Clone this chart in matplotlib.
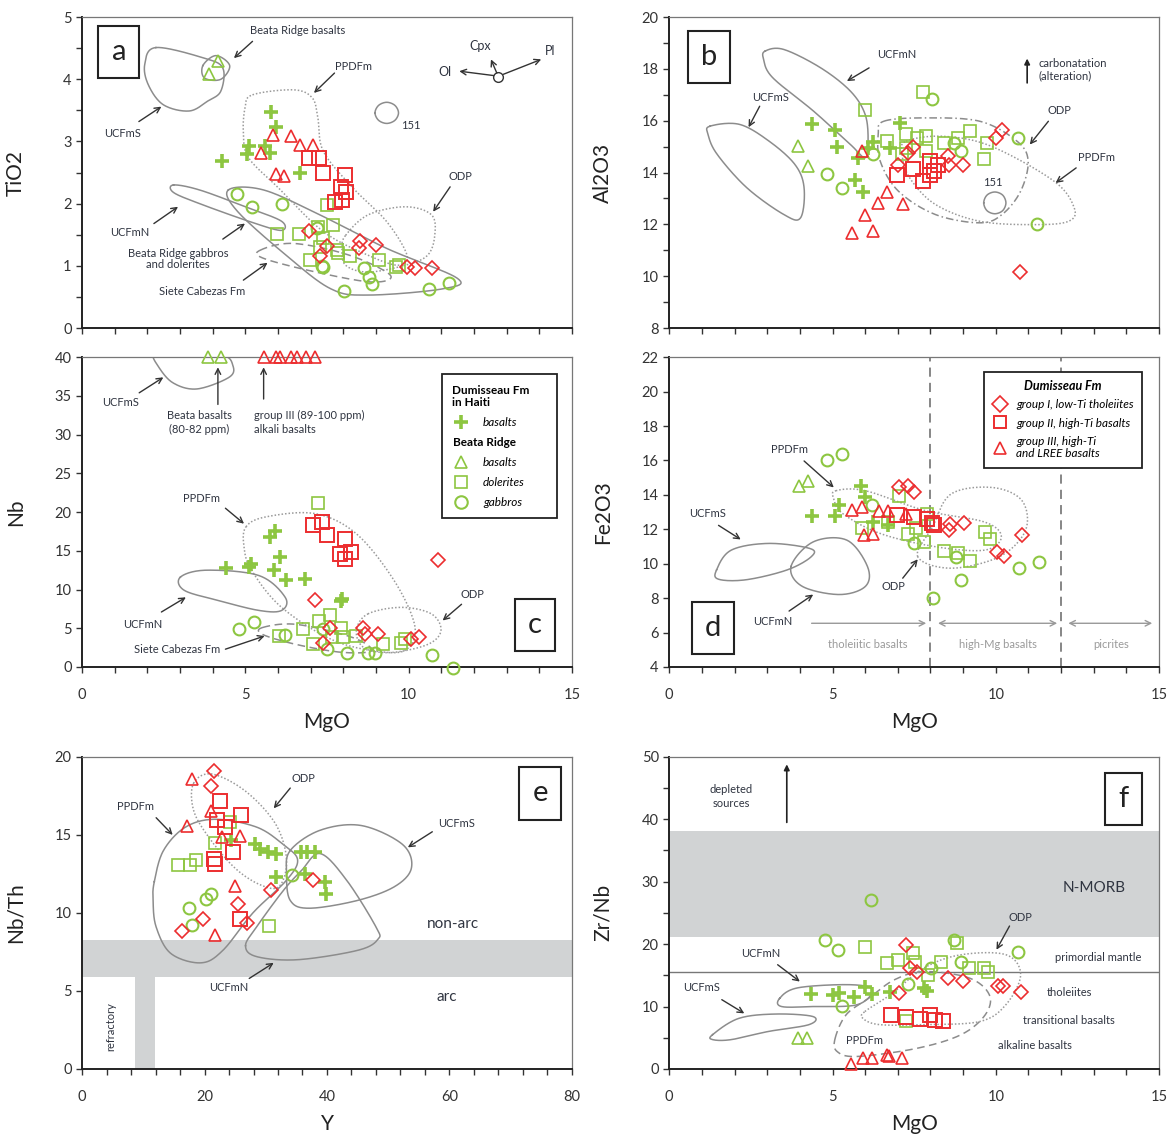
import numpy as np
import matplotlib.pyplot as plt
from matplotlib.ticker import MultipleLocator
from matplotlib.lines import Line2D
from matplotlib.patches import Rectangle

plt.rcParams['font.family'] = ['Lato', 'DejaVu Sans']

GREEN = '#8dc641'
RED = '#ec2d2f'
FIELD = '#8c8c8c'
TXT = '#2f3440'

# ---------------- panel a: TiO2 vs MgO ----------------
a_plus = [(4.28, 2.68), (5.05, 2.80), (5.10, 2.93), (5.60, 2.93), (5.77, 2.82), (5.79, 3.47), (5.93, 3.23), (6.67, 2.49)]
a_gtri = [(4.16, 4.30), (3.88, 4.09)]
a_gsq = [(7.50, 1.98), (5.96, 1.52), (6.65, 1.51), (7.22, 1.63), (7.67, 1.65), (7.39, 1.44), (7.82, 1.25),
         (7.85, 1.20), (8.19, 1.16), (6.99, 1.09), (9.10, 1.09), (9.61, 0.98), (9.70, 1.01), (7.30, 1.30)]
a_gcirc = [(4.74, 2.15), (5.20, 1.94), (6.11, 1.99), (7.39, 0.98), (8.64, 0.96), (8.79, 0.82), (8.89, 0.70),
           (8.02, 0.59), (10.62, 0.63), (11.24, 0.73), (7.19, 1.61), (7.35, 1.00)]
a_rdia = [(6.96, 1.56), (7.50, 1.32), (7.28, 1.16), (8.51, 1.40), (8.47, 1.29), (8.99, 1.33), (9.95, 0.98),
          (10.18, 0.96), (10.73, 0.96)]
a_rsq = [(6.96, 2.74), (7.25, 2.74), (7.39, 2.49), (8.05, 2.46), (7.94, 2.27), (8.07, 2.18), (7.75, 2.03), (7.96, 2.06)]
a_rtri = [(5.85, 3.11), (6.40, 3.08), (6.68, 2.94), (7.07, 2.94), (5.48, 2.82), (5.93, 2.47), (6.19, 2.45)]

a_ucfms = [(2.26, 4.51), (3.74, 4.34), (4.31, 4.18), (4.25, 3.81), (3.85, 3.65), (3.28, 3.49), (2.49, 3.59), (2.03, 3.91), (1.92, 4.24)]
a_beata = [(3.70, 4.22), (4.10, 4.38), (4.52, 4.22), (4.25, 4.00), (3.75, 4.02)]
a_ppdfm = [(5.22, 3.75), (6.48, 3.83), (7.05, 3.70), (7.22, 3.38), (7.39, 2.84), (8.30, 2.25), (9.33, 1.71), (9.95, 1.17),
           (9.67, 1.01), (8.76, 1.17), (7.39, 1.55), (6.02, 2.25), (5.11, 2.73), (4.94, 3.11), (4.99, 3.54)]
a_151 = [(8.97, 3.46), (9.08, 3.58), (9.33, 3.63), (9.58, 3.58), (9.69, 3.46), (9.58, 3.34), (9.33, 3.29), (9.08, 3.34)]
a_odp = [(8.07, 1.49), (8.76, 1.82), (9.90, 1.95), (10.70, 1.82), (10.80, 1.49), (10.58, 1.17), (9.90, 1.01),
         (8.76, 0.90), (8.07, 1.01), (7.96, 1.28)]
a_ucfmn = [(2.80, 2.30), (3.60, 2.22), (5.00, 1.95), (6.10, 1.72), (6.10, 1.57), (5.20, 1.70), (3.60, 2.00), (2.80, 2.18)]
a_gabbro = [(4.48, 2.22), (5.56, 2.22), (7.28, 1.82), (9.33, 1.28), (11.49, 0.80), (11.04, 0.63), (8.76, 0.53),
            (7.62, 0.63), (6.25, 1.17), (4.77, 1.87)]
a_siete = [(5.45, 1.25), (6.48, 1.36), (8.19, 1.17), (9.44, 0.85), (8.87, 0.74), (7.16, 0.90), (5.56, 1.12)]

# ---------------- panel b: Al2O3 vs MgO ----------------
b_plus = [(4.38, 15.88), (5.07, 15.66), (5.15, 15.00), (5.78, 14.57), (5.69, 13.71), (5.92, 13.24), (6.23, 15.19),
          (6.77, 14.96), (7.08, 15.92), (6.10, 14.96)]
b_gtri = [(3.94, 15.02), (4.25, 14.25)]
b_gsq = [(6.00, 16.40), (7.76, 17.12), (6.68, 15.21), (7.25, 15.47), (7.59, 15.34), (7.87, 15.40), (7.25, 14.95),
         (8.40, 15.15), (8.83, 15.34), (9.20, 15.62), (9.74, 15.15), (9.65, 14.54), (7.13, 14.70), (7.87, 14.83)]
b_gcirc = [(4.84, 13.93), (5.30, 13.41), (6.23, 14.70), (8.06, 16.82), (8.72, 15.15), (8.92, 14.83), (10.68, 15.34), (11.27, 12.02)]
b_rdia = [(7.02, 14.31), (7.30, 14.76), (7.47, 14.98), (8.55, 14.63), (8.58, 14.31), (9.00, 14.31), (10.02, 15.34),
          (10.20, 15.66), (10.74, 10.17)]
b_rsq = [(6.96, 13.90), (7.47, 14.12), (7.76, 13.69), (7.98, 13.92), (7.98, 14.44), (8.24, 14.29), (8.10, 14.05)]
b_rtri = [(5.89, 14.83), (6.68, 13.26), (6.40, 12.83), (7.17, 12.77), (6.00, 12.38), (5.60, 11.67), (6.25, 11.74)]

b_ucfms = [(1.25, 15.79), (2.15, 15.86), (3.06, 15.21), (3.85, 14.31), (4.13, 13.41), (4.02, 12.25), (3.51, 12.38),
           (2.38, 13.41), (1.47, 14.70), (1.19, 15.47)]
b_ucfmn = [(2.94, 18.69), (3.51, 18.75), (4.64, 18.04), (5.55, 17.14), (6.00, 16.24), (6.09, 15.21), (6.00, 14.57),
           (5.55, 15.08), (4.42, 16.37), (3.17, 17.66), (2.89, 18.37)]
b_odp = [(6.57, 15.98), (7.81, 16.11), (9.51, 15.98), (10.65, 15.21), (10.99, 14.44), (10.76, 13.28), (10.19, 12.38),
         (9.51, 12.06), (8.15, 12.38), (7.02, 13.28), (6.46, 14.44), (6.40, 15.47)]
b_ppdfm = [(7.25, 15.21), (8.38, 15.40), (9.85, 15.02), (11.78, 13.67), (12.40, 12.64), (12.23, 12.12), (11.21, 11.99),
           (9.51, 12.12), (8.15, 12.77), (7.36, 13.80), (7.13, 14.70)]
b_151 = [(9.63, 12.83), (9.73, 13.13), (9.97, 13.25), (10.21, 13.13), (10.31, 12.83), (10.21, 12.53), (9.97, 12.41), (9.73, 12.53)]

# ---------------- panel c: Nb vs MgO ----------------
c_plus = [(4.41, 12.78), (5.17, 13.26), (5.12, 12.90), (5.74, 16.81), (5.90, 17.59), (5.88, 12.48), (6.05, 14.21),
          (6.25, 11.18), (6.82, 11.40), (7.97, 8.80), (7.93, 8.50)]
c_gtri = [(3.87, 40.0), (4.24, 40.0)]
c_gsq = [(7.23, 21.14), (7.60, 6.76), (7.26, 5.98), (6.77, 4.90), (6.02, 4.03), (7.94, 5.03), (8.00, 3.90),
         (8.38, 4.03), (7.08, 3.03), (9.23, 3.03), (9.78, 3.16), (9.90, 3.60), (7.66, 3.81)]
c_gcirc = [(4.82, 4.90), (5.28, 5.76), (6.20, 4.16), (7.37, 4.90), (7.49, 2.30), (8.12, 1.86), (8.75, 1.86),
           (8.98, 1.86), (10.73, 1.52), (11.37, -0.09)]
c_rdia = [(7.12, 8.67), (7.58, 5.03), (7.37, 3.08), (8.61, 5.03), (8.66, 4.25), (9.07, 4.25), (10.07, 3.60),
          (10.33, 3.81), (10.91, 13.78)]
c_rsq = [(7.08, 18.33), (7.35, 18.76), (7.49, 17.03), (8.06, 16.59), (7.89, 14.64), (8.23, 14.86), (8.04, 13.99)]
c_rtri = [(5.56, 40.0), (5.94, 40.0), (6.07, 40.0), (6.40, 40.0), (6.57, 40.0), (6.85, 40.0), (7.14, 40.0)]

c_ucfms = [(2.20, 40.4), (2.78, 40.6), (4.27, 40.3), (4.62, 38.9), (4.50, 37.4), (3.52, 35.9), (2.78, 36.7), (2.32, 38.9)]
c_ppdfm = [(5.02, 18.1), (5.65, 19.4), (7.14, 19.8), (8.40, 17.2), (9.55, 11.2), (10.18, 5.5), (10.00, 2.5),
           (9.30, 1.9), (7.72, 3.4), (6.11, 7.7), (5.19, 12.5), (4.96, 15.5)]
c_ucfmn = [(3.01, 11.6), (3.81, 12.5), (5.42, 11.8), (6.22, 9.0), (6.11, 7.3), (5.42, 7.3), (4.16, 8.6), (3.13, 9.9)]
c_odp = [(8.75, 6.85), (9.78, 7.7), (10.70, 6.85), (10.99, 4.7), (10.58, 2.9), (9.44, 1.86), (8.63, 2.5), (8.40, 4.7)]
c_siete = [(5.53, 5.1), (6.57, 5.5), (8.29, 3.8), (8.86, 2.1), (7.94, 1.9), (6.57, 2.9), (5.53, 4.2)]

# ---------------- panel d: Fe2O3 vs MgO ----------------
d_plus = [(4.38, 12.77), (5.07, 12.80), (5.19, 13.42), (5.87, 14.49), (5.99, 13.86), (6.24, 12.42), (6.69, 12.27)]
d_gtri = [(3.98, 14.49), (4.24, 14.78)]
d_gsq = [(7.04, 13.95), (7.32, 11.75), (7.81, 11.27), (7.89, 12.90), (8.40, 10.76), (8.85, 10.64), (9.22, 10.18),
         (9.68, 11.85), (9.81, 11.41), (5.90, 12.10), (6.69, 12.42), (7.55, 12.10)]
d_gcirc = [(4.83, 16.00), (5.30, 16.35), (6.20, 13.44), (7.49, 11.21), (8.08, 8.02), (8.77, 10.37), (8.92, 9.07),
           (10.72, 9.78), (11.31, 10.12)]
d_rdia = [(7.04, 14.47), (7.32, 14.53), (7.49, 14.15), (8.57, 11.94), (8.61, 12.29), (9.03, 12.36), (10.03, 10.70),
          (10.25, 10.45), (10.80, 11.66)]
d_rsq = [(6.98, 12.86), (7.49, 12.71), (7.89, 12.61), (8.04, 12.36), (8.12, 12.23)]
d_rtri = [(5.59, 13.13), (5.90, 13.32), (5.95, 11.66), (6.24, 11.75), (6.41, 13.09), (6.69, 13.09), (7.24, 12.90)]

d_ucfms = [(1.45, 9.64), (1.90, 10.79), (3.04, 11.18), (4.30, 10.89), (4.35, 10.41), (3.61, 9.64), (2.36, 9.07), (1.51, 9.10)]
d_ucfmn = [(3.73, 9.84), (4.41, 11.27), (5.44, 11.37), (6.07, 9.84), (6.01, 8.69), (5.21, 8.21), (4.07, 8.69)]
d_ppdfm = [(5.10, 14.24), (6.01, 14.24), (7.83, 13.09), (9.66, 12.42), (10.17, 11.56), (9.66, 10.79), (8.18, 10.98),
           (6.47, 11.75), (5.32, 12.90), (5.04, 13.76)]
d_odp = [(7.61, 10.41), (8.06, 12.13), (8.63, 14.05), (9.89, 14.43), (10.80, 13.67), (10.91, 11.94), (10.11, 10.41), (8.63, 9.74)]
d_limits = [8, 12]

# ---------------- panel e: Nb/Th vs Y ----------------
e_plus = [(28.2, 14.4), (29.1, 14.1), (30.3, 13.9), (31.6, 13.8), (35.8, 13.9), (36.7, 13.9), (38.0, 13.9),
          (39.6, 12.0), (39.8, 11.2), (31.6, 12.3), (36.4, 12.5), (24.3, 14.7)]
e_gsq = [(15.7, 13.1), (17.7, 13.1), (18.6, 13.4), (21.7, 14.5), (24.2, 15.8), (30.5, 9.17)]
e_gcirc = [(17.4, 10.3), (17.9, 9.2), (20.2, 10.9), (21.0, 11.2), (34.3, 12.4)]
e_rdia = [(21.5, 19.1), (21.0, 18.15), (25.5, 10.6), (19.8, 9.6), (16.3, 8.85), (27.0, 9.36), (30.8, 11.5), (37.7, 12.1)]
e_rsq = [(22.6, 17.2), (25.9, 16.3), (22.1, 15.95), (23.3, 15.5), (21.5, 13.45), (21.7, 13.15), (24.6, 13.9), (25.8, 9.6)]
e_rtri = [(17.9, 18.6), (17.1, 15.6), (21.0, 16.55), (22.9, 14.85), (25.8, 14.9), (24.9, 11.75), (21.7, 8.57)]

e_ppdfm = [(11.8, 12.0), (13.3, 14.0), (16.9, 15.5), (21.8, 16.0), (28.5, 15.5), (32.8, 14.4), (35.2, 13.4), (33.4, 12.1),
           (27.9, 10.0), (23.0, 7.6), (19.4, 6.8), (14.5, 7.4), (12.1, 9.1), (11.6, 10.8)]
e_odp = [(18.2, 18.3), (21.2, 18.9), (26.7, 17.8), (31.6, 15.7), (33.4, 13.4), (32.2, 11.7), (29.1, 11.8), (24.9, 12.9),
         (20.6, 14.9), (18.2, 16.6)]
e_ucfms = [(34.0, 14.0), (38.9, 15.3), (45.6, 15.6), (52.3, 14.4), (53.8, 12.9), (51.1, 11.7), (45.0, 10.8), (37.1, 10.3),
           (34.0, 10.8), (33.4, 12.5)]
e_ucfmn = [(26.7, 7.9), (28.5, 9.1), (32.8, 11.4), (35.8, 12.7), (38.9, 13.8), (43.2, 12.1), (48.0, 9.1), (48.3, 8.3),
           (45.0, 7.6), (35.2, 7.0), (28.5, 7.2)]
e_arc_band = (5.9, 8.25)
e_refractory = (8.6, 11.9)

# ---------------- panel f: Zr/Nb vs MgO ----------------
f_plus = [(4.34, 12.0), (5.02, 11.9), (5.19, 12.2), (5.67, 11.6), (5.99, 13.1), (6.22, 12.0), (6.76, 12.4), (7.81, 13.0), (7.90, 12.5)]
f_gtri = [(3.94, 4.9), (4.23, 4.9)]
f_gsq = [(5.99, 19.5), (6.67, 17.0), (7.02, 17.5), (7.47, 18.6), (7.52, 17.2), (8.32, 17.2), (8.81, 20.1), (9.17, 16.2),
         (9.65, 16.1), (9.77, 15.6), (7.92, 15.1), (7.24, 7.7)]
f_gcirc = [(4.76, 20.6), (5.17, 19.1), (6.18, 27.0), (5.28, 10.1), (7.30, 13.6), (8.03, 16.2), (8.72, 20.7), (8.92, 17.1), (10.68, 18.8)]
f_rdia = [(7.26, 19.9), (7.38, 16.2), (7.60, 15.6), (8.55, 14.5), (9.00, 14.1), (10.06, 13.3), (10.23, 13.3), (10.76, 12.4), (7.03, 12.2)]
f_rsq = [(6.78, 8.7), (7.24, 8.4), (7.69, 8.0), (7.98, 8.7), (8.15, 7.9), (8.38, 7.7)]
f_rtri = [(5.57, 0.75), (5.93, 1.7), (6.22, 1.8), (6.67, 2.2), (6.72, 2.0), (7.13, 1.7)]

f_ucfms = [(1.33, 5.5), (2.13, 8.1), (3.26, 8.8), (4.40, 8.4), (4.28, 7.1), (3.03, 6.0), (1.90, 4.7), (1.33, 4.7)]
f_ucfmn = [(3.38, 11.3), (3.94, 13.0), (5.53, 13.5), (6.22, 12.7), (5.76, 10.3), (4.40, 10.0), (3.44, 10.0)]
f_ppdfm = [(5.08, 4.9), (5.42, 8.7), (6.10, 11.3), (6.90, 14.3), (7.81, 15.6), (9.17, 14.6), (9.80, 11.9), (9.68, 8.7),
           (8.94, 5.5), (7.58, 3.3), (5.76, 2.0), (5.14, 2.8)]
f_odp = [(5.99, 9.2), (6.78, 11.9), (7.81, 16.2), (8.94, 18.3), (10.31, 18.3), (10.76, 15.1), (10.31, 10.3), (9.51, 7.6),
         (7.81, 7.1), (6.44, 7.1), (5.93, 8.1)]
f_nmorb = (21.1, 38.2)
f_primordial = 15.6


def smooth_closed(pts, n=24):
    """closed Catmull-Rom curve through the outline points"""
    p = np.array(pts, dtype=float)
    m = len(p)
    t = np.linspace(0, 1, n, endpoint=False)[:, None]
    segs = []
    for i in range(m):
        p0, p1, p2, p3 = p[i - 1], p[i], p[(i + 1) % m], p[(i + 2) % m]
        segs.append(0.5 * (2 * p1 + (p2 - p0) * t + (2 * p0 - 5 * p1 + 4 * p2 - p3) * t ** 2
                           + (3 * p1 - p0 - 3 * p2 + p3) * t ** 3))
    out = np.vstack(segs)
    return np.vstack([out, out[:1]])


def field(ax, pts, style='-'):
    c = smooth_closed(pts)
    if style == ':':
        ls, col = (0, (1, 1.3)), '#9a9a9a'
    elif style == '--':
        ls, col = (0, (5, 3)), '#8c8c8c'
    elif style == '-.':
        ls, col = (0, (5, 2, 1, 2)), '#8c8c8c'
    else:
        ls, col = '-', FIELD
    ax.plot(c[:, 0], c[:, 1], ls=ls, color=col, lw=1.1, zorder=2)


STYLES = {
    'plus': dict(marker='+', ms=10, mew=2.6, color=GREEN),
    'gtri': dict(marker='^', ms=8, mew=1.2, mfc='none', mec=GREEN),
    'gsq': dict(marker='s', ms=9, mew=1.2, mfc='none', mec=GREEN),
    'gcirc': dict(marker='o', ms=8.5, mew=1.5, mfc='none', mec=GREEN),
    'rdia': dict(marker='D', ms=7, mew=1.2, mfc='none', mec=RED),
    'rsq': dict(marker='s', ms=10, mew=1.4, mfc='none', mec=RED),
    'rtri': dict(marker='^', ms=9, mew=1.2, mfc='none', mec=RED),
}


def points(ax, **groups):
    for key, pts in groups.items():
        p = np.array(pts)
        ax.plot(p[:, 0], p[:, 1], ls='none', clip_on=False, zorder=5, **STYLES[key])


def label(ax, s, x, y, ha='center', size=8, **kw):
    ax.text(x, y, s, ha=ha, va='center', fontsize=size, color=TXT, zorder=6, **kw)


def arrow(ax, tail, head, color='#333333', style='->'):
    ax.annotate('', xy=head, xytext=tail,
                arrowprops=dict(arrowstyle=style, color=color, lw=1.0, shrinkA=0, shrinkB=0), zorder=6)


def letter(ax, s, x, y):
    ax.text(x, y, s, transform=ax.transAxes, ha='center', va='center', fontsize=21, color='#222',
            bbox=dict(boxstyle='square,pad=0.45', fc='white', ec='#222', lw=1.5), zorder=7)


def setup(ax, xlim, ylim, xmaj, xmin, ymaj, ymin, xlabel=None, ylabel=None, xticklabels=True):
    ax.set_xlim(*xlim)
    ax.set_ylim(*ylim)
    ax.xaxis.set_major_locator(MultipleLocator(xmaj))
    ax.xaxis.set_minor_locator(MultipleLocator(xmin))
    ax.yaxis.set_major_locator(MultipleLocator(ymaj))
    ax.yaxis.set_minor_locator(MultipleLocator(ymin))
    ax.tick_params(which='both', direction='out', length=4, width=1, colors='#333', labelsize=10.5)
    ax.tick_params(axis='x', labelbottom=xticklabels, pad=11)
    for s in ['top', 'right']:
        ax.spines[s].set_color('#777')
        ax.spines[s].set_linewidth(0.9)
    for s in ['left', 'bottom']:
        ax.spines[s].set_color('#222')
        ax.spines[s].set_linewidth(1.4)
    if ylabel:
        ax.set_ylabel(ylabel, fontsize=15, color='#222')
        ax.yaxis.set_label_coords(-0.115, 0.5)
    if xlabel:
        ax.set_xlabel(xlabel, fontsize=15, color='#222')
        ax.xaxis.set_label_coords(0.5, -0.145)


fig = plt.figure(figsize=(11.72, 11.39), dpi=100)
L1, L2, W = 0.070, 0.571, 0.418
ax_a = fig.add_axes([L1, 0.712, W, 0.273])
ax_b = fig.add_axes([L2, 0.712, W, 0.273])
ax_c = fig.add_axes([L1, 0.4144, W, 0.272])
ax_d = fig.add_axes([L2, 0.4144, W, 0.272])
ax_e = fig.add_axes([L1, 0.0615, W, 0.274])
ax_f = fig.add_axes([L2, 0.0615, W, 0.274])

# ---------- a ----------
ax = ax_a
setup(ax, (0, 15), (0, 5), 5, 1, 1, 0.5, ylabel='TiO2', xticklabels=False)
field(ax, a_ucfms)
field(ax, a_beata)
field(ax, a_ppdfm, ':')
field(ax, a_151)
field(ax, a_odp, ':')
field(ax, a_ucfmn)
field(ax, a_gabbro)
field(ax, a_siete, '--')
points(ax, gsq=a_gsq, gcirc=a_gcirc, gtri=a_gtri, plus=a_plus, rdia=a_rdia, rsq=a_rsq, rtri=a_rtri)
label(ax, 'Beata Ridge basalts', 6.6, 4.78)
arrow(ax, (5.22, 4.61), (4.65, 4.34))
label(ax, 'PPDFm', 8.3, 4.21)
arrow(ax, (7.73, 4.10), (7.10, 3.78))
label(ax, 'UCFmS', 1.23, 3.13)
arrow(ax, (1.74, 3.32), (2.43, 3.56))
label(ax, '151', 10.07, 3.25)
label(ax, 'ODP', 11.6, 2.44)
arrow(ax, (11.27, 2.27), (10.75, 1.87))
label(ax, 'UCFmN', 1.46, 1.54)
arrow(ax, (2.2, 1.68), (2.94, 1.95))
label(ax, 'Beata Ridge gabbros\nand dolerites', 2.94, 1.11, linespacing=1.1)
arrow(ax, (4.31, 1.43), (4.99, 1.68))
label(ax, 'Siete Cabezas Fm', 3.68, 0.58)
arrow(ax, (4.94, 0.77), (5.68, 1.05))
# fractionation vectors
ax.plot([12.75], [4.03], marker='o', ms=7, mfc='white', mec='#333', mew=1, zorder=6)
arrow(ax, (12.6, 4.06), (11.55, 4.13))
arrow(ax, (12.7, 4.1), (12.52, 4.32))
arrow(ax, (12.9, 4.08), (14.06, 4.32))
label(ax, 'Ol', 11.1, 4.12, size=9)
label(ax, 'Cpx', 12.18, 4.53, size=9)
label(ax, 'Pl', 14.34, 4.46, size=9)
letter(ax, 'a', 0.075, 0.887)

# ---------- b ----------
ax = ax_b
setup(ax, (0, 15), (8, 20), 5, 1, 2, 1, ylabel='Al2O3', xticklabels=False)
field(ax, b_ucfms)
field(ax, b_ucfmn)
field(ax, b_odp, '-.')
field(ax, b_ppdfm, ':')
field(ax, b_151)
points(ax, gsq=b_gsq, gcirc=b_gcirc, gtri=b_gtri, plus=b_plus, rdia=b_rdia, rsq=b_rsq, rtri=b_rtri)
label(ax, 'UCFmN', 6.96, 18.56)
arrow(ax, (6.12, 18.04), (5.44, 17.53))
label(ax, 'UCFmS', 3.11, 16.89)
arrow(ax, (2.77, 16.56), (2.43, 15.75))
label(ax, 'carbonatation\n(alteration)', 11.3, 17.98, ha='left', linespacing=1.1)
ax.annotate('', xy=(10.96, 18.4), xytext=(10.96, 17.46),
            arrowprops=dict(arrowstyle='-|>', color='#222', lw=1.2, mutation_scale=8, shrinkA=0, shrinkB=0))
label(ax, 'ODP', 11.95, 16.4)
arrow(ax, (11.61, 15.98), (11.04, 15.08))
label(ax, 'PPDFm', 13.08, 14.6)
arrow(ax, (12.46, 14.18), (11.83, 13.6))
label(ax, '151', 9.91, 13.6)
letter(ax, 'b', 0.081, 0.872)

# ---------- c ----------
ax = ax_c
setup(ax, (0, 15), (0, 40), 5, 1, 5, 5, xlabel='MgO', ylabel='Nb')
field(ax, c_ucfms)
field(ax, c_ppdfm, ':')
field(ax, c_ucfmn)
field(ax, c_odp, ':')
field(ax, c_siete, '--')
points(ax, gsq=c_gsq, gcirc=c_gcirc, gtri=c_gtri, plus=c_plus, rdia=c_rdia, rsq=c_rsq, rtri=c_rtri)
label(ax, 'UCFmS', 1.17, 34.1)
arrow(ax, (1.75, 35.4), (2.49, 37.4))
label(ax, 'Beata basalts\n(80-82 ppm)', 3.58, 31.6, linespacing=1.3)
arrow(ax, (4.16, 33.9), (4.16, 38.7))
label(ax, 'group III (89-100 ppm)\nalkali basalts', 5.25, 31.6, ha='left', linespacing=1.3)
arrow(ax, (5.56, 34.6), (5.56, 38.7))
label(ax, 'PPDFm', 3.67, 21.8)
arrow(ax, (4.39, 20.5), (4.96, 18.5))
label(ax, 'UCFmN', 1.86, 5.5)
arrow(ax, (2.43, 7.1), (3.18, 9.0))
label(ax, 'Siete Cabezas Fm', 2.9, 2.3)
arrow(ax, (4.39, 2.3), (5.59, 4.0))
label(ax, 'ODP', 11.96, 9.4)
arrow(ax, (11.62, 8.1), (11.04, 6.0))
leg_handles = [
    Line2D([], [], ls='none', **STYLES['plus']),
    Line2D([], [], ls='none'),
    Line2D([], [], ls='none', **{**STYLES['gtri'], 'ms': 9}),
    Line2D([], [], ls='none', **{**STYLES['gsq'], 'ms': 8}),
    Line2D([], [], ls='none', **{**STYLES['gcirc'], 'ms': 9}),
]
leg = ax.legend(leg_handles, ['basalts', 'Beata Ridge', 'basalts', 'dolerites', 'gabbros'],
                title='Dumisseau Fm\nin Haiti', alignment='left', loc='upper right',
                bbox_to_anchor=(0.981, 0.965), frameon=True, fancybox=False, framealpha=1,
                edgecolor='#222', fontsize=8.5, title_fontsize=8.5, handlelength=1.4,
                handletextpad=1.2, labelspacing=0.75, borderpad=0.9)
leg.get_frame().set_linewidth(1.3)
leg.get_title().set_fontweight('bold')
for i, t in enumerate(leg.get_texts()):
    if i == 1:
        t.set_fontweight('bold')
        t.set_position((-30, 0))
    else:
        t.set_style('italic')
letter(ax, 'c', 0.924, 0.135)

# ---------- d ----------
ax = ax_d
setup(ax, (0, 15), (4, 22), 5, 1, 2, 2, xlabel='MgO', ylabel='Fe2O3')
for xv in d_limits:
    ax.axvline(xv, color='#666', lw=1.1, ls=(0, (6, 4)), zorder=1)
field(ax, d_ucfms)
field(ax, d_ucfmn)
field(ax, d_ppdfm, ':')
field(ax, d_odp, ':')
points(ax, gsq=d_gsq, gcirc=d_gcirc, gtri=d_gtri, plus=d_plus, rdia=d_rdia, rsq=d_rsq, rtri=d_rtri)
label(ax, 'PPDFm', 3.67, 16.64)
arrow(ax, (4.13, 15.97), (5.04, 14.43))
label(ax, 'UCFmS', 1.16, 12.9)
arrow(ax, (1.51, 12.23), (2.19, 11.41))
label(ax, 'ODP', 6.86, 8.65)
arrow(ax, (7.15, 9.16), (7.61, 10.26))
label(ax, 'UCFmN', 3.16, 6.67)
arrow(ax, (3.67, 7.25), (4.41, 8.21))
arrow(ax, (4.36, 6.54), (7.87, 6.54), color='#999', style='->')
arrow(ax, (8.23, 6.54), (11.88, 6.54), color='#999', style='<->')
arrow(ax, (12.22, 6.54), (14.79, 6.54), color='#999', style='<->')
for s, xv in [('tholeiitic basalts', 6.07), ('high-Mg basalts', 10.06), ('picrites', 13.53)]:
    ax.text(xv, 5.33, s, ha='center', va='center', fontsize=8, color='#9a9a9a')
leg_handles = [
    Line2D([], [], ls='none', **{**STYLES['rdia'], 'ms': 8}),
    Line2D([], [], ls='none', **{**STYLES['rsq'], 'ms': 8.5}),
    Line2D([], [], ls='none', **{**STYLES['rtri'], 'ms': 9}),
]
leg = ax.legend(leg_handles, ['group I, low-Ti tholeiites', 'group II, high-Ti basalts',
                              'group III, high-Ti\nand LREE basalts'],
                title='Dumisseau Fm', loc='upper right', bbox_to_anchor=(0.977, 0.971),
                frameon=True, fancybox=False, framealpha=1, edgecolor='#222', fontsize=8.5,
                title_fontsize=9, handlelength=1.2, handletextpad=0.8, labelspacing=0.6, borderpad=0.7)
leg.get_frame().set_linewidth(1.3)
leg.get_title().set_fontweight('bold')
leg.get_title().set_style('italic')
for t in leg.get_texts():
    t.set_style('italic')
letter(ax, 'd', 0.089, 0.125)

# ---------- e ----------
ax = ax_e
setup(ax, (0, 80), (0, 20), 20, 4, 5, 5, xlabel='Y', ylabel='Nb/Th')
ax.axhspan(*e_arc_band, color='#d1d3d4', lw=0, zorder=0)
ax.add_patch(Rectangle((e_refractory[0], 0), e_refractory[1] - e_refractory[0], e_arc_band[0],
                       color='#d1d3d4', lw=0, zorder=0))
field(ax, e_ppdfm)
field(ax, e_odp, ':')
field(ax, e_ucfms)
field(ax, e_ucfmn)
points(ax, gsq=e_gsq, gcirc=e_gcirc, plus=e_plus, rdia=e_rdia, rsq=e_rsq, rtri=e_rtri)
label(ax, 'ODP', 36.1, 18.6)
arrow(ax, (34.0, 18.0), (31.3, 16.7))
label(ax, 'PPDFm', 8.7, 16.8)
arrow(ax, (12.1, 16.1), (14.8, 15.0))
label(ax, 'UCFmS', 61.1, 15.7)
arrow(ax, (57.2, 15.2), (53.2, 14.2))
label(ax, 'UCFmN', 24.0, 5.2)
arrow(ax, (27.3, 5.8), (31.3, 6.8))
label(ax, 'non-arc', 60.5, 9.3, size=11)
label(ax, 'arc', 59.6, 4.6, size=11)
ax.text(4.75, 2.7, 'refractory', rotation=90, ha='center', va='center', fontsize=8, color=TXT)
letter(ax, 'e', 0.935, 0.883)

# ---------- f ----------
ax = ax_f
setup(ax, (0, 15), (0, 50), 5, 1, 10, 5, xlabel='MgO', ylabel='Zr/Nb')
ax.axhspan(*f_nmorb, color='#d1d3d4', lw=0, zorder=0)
ax.axhline(f_primordial, color='#777', lw=1.0, zorder=1)
field(ax, f_ucfms)
field(ax, f_ucfmn)
field(ax, f_ppdfm, '--')
field(ax, f_odp, ':')
points(ax, gsq=f_gsq, gcirc=f_gcirc, gtri=f_gtri, plus=f_plus, rdia=f_rdia, rsq=f_rsq, rtri=f_rtri)
label(ax, 'N-MORB', 13.0, 29.0, size=11)
label(ax, 'primordial mantle', 13.15, 17.9)
label(ax, 'tholeiites', 12.24, 12.3)
label(ax, 'transitional basalts', 12.24, 7.7)
label(ax, 'alkaline basalts', 11.2, 3.7)
label(ax, 'depleted\nsources', 1.9, 43.7, linespacing=1.3)
ax.annotate('', xy=(3.6, 48.8), xytext=(3.6, 39.5),
            arrowprops=dict(arrowstyle='-|>', color='#222', lw=1.2, mutation_scale=8, shrinkA=0, shrinkB=0))
label(ax, 'ODP', 10.76, 24.2)
arrow(ax, (10.42, 22.9), (10.02, 19.1))
label(ax, 'UCFmN', 2.81, 18.5)
arrow(ax, (3.32, 16.7), (4.0, 14.0))
label(ax, 'UCFmS', 0.99, 13.1)
arrow(ax, (1.61, 11.1), (2.3, 8.9))
label(ax, 'PPDFm', 5.99, 4.55)
letter(ax, 'f', 0.927, 0.864)

fig.savefig('out.png', dpi=100, facecolor='white')
